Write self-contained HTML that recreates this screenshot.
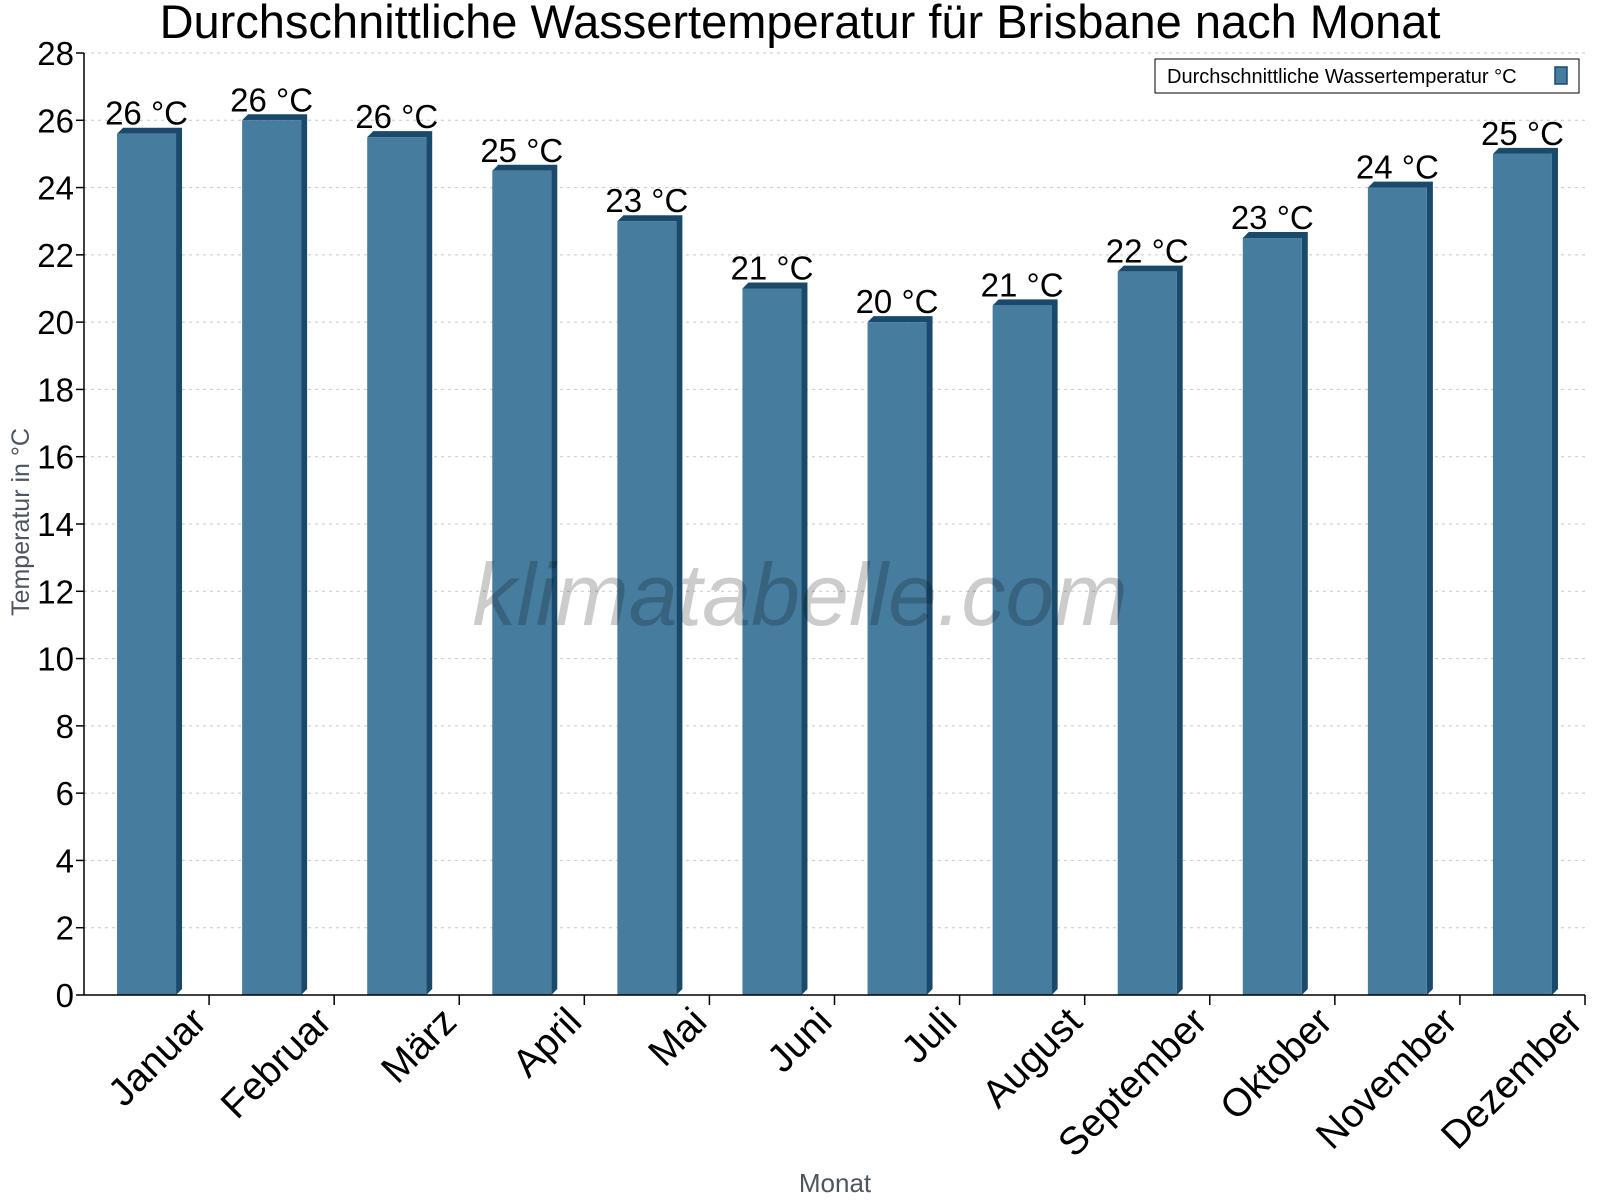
<!DOCTYPE html>
<html><head><meta charset="utf-8"><style>
body{margin:0;background:#fff}
svg{display:block;font-family:"Liberation Sans",sans-serif}
</style></head><body>
<svg id="chart" width="1600" height="1200" xmlns="http://www.w3.org/2000/svg">
<text x="800" y="38" font-size="47" text-anchor="middle" fill="#000">Durchschnittliche Wassertemperatur für Brisbane nach Monat</text>
<g id="grid"></g>
<g id="bars"></g>
<g id="axes"></g>
<text x="800" y="625" font-size="88" font-style="italic" text-anchor="middle" fill="#000" fill-opacity="0.2">klimatabelle.com</text>
<text transform="translate(29,522) rotate(-90)" font-size="25" text-anchor="middle" fill="#4d5560">Temperatur in °C</text>
<text x="835" y="1192" font-size="26" text-anchor="middle" fill="#4d5560">Monat</text>
<g>
<rect x="1155" y="59" width="424" height="34" fill="#fff" stroke="#000" stroke-width="1"/>
<text x="1167" y="83" font-size="20" fill="#000">Durchschnittliche Wassertemperatur °C</text>
<rect x="1555" y="67" width="12" height="17" fill="#467c9e" stroke="#1a4a6b" stroke-width="1.5"/>
</g>
</svg>
<script>
const months = ["Januar","Februar","März","April","Mai","Juni","Juli","August","September","Oktober","November","Dezember"];
const temps = [25.6,26.0,25.5,24.5,23.0,21.0,20.0,20.5,21.5,22.5,24.0,25.0];
const labels = ["26 °C","26 °C","26 °C","25 °C","23 °C","21 °C","20 °C","21 °C","22 °C","23 °C","24 °C","25 °C"];
const yTicks = [0,2,4,6,8,10,12,14,16,18,20,22,24,26,28];
const NS="http://www.w3.org/2000/svg";
const L=84,R=1585,T=53,B=995,yMax=28;
const y=v=>B-(B-T)*v/yMax;
const bw=(R-L)/months.length;
const xc=i=>L+bw*(i+0.5);
function mk(tag,attrs,parent,text){const e=document.createElementNS(NS,tag);for(const k in attrs)e.setAttribute(k,attrs[k]);if(text!==undefined)e.textContent=text;parent.appendChild(e);return e;}
const grid=document.getElementById('grid'),bars=document.getElementById('bars'),axes=document.getElementById('axes');
yTicks.forEach(t=>{
  const g=mk('line',{x1:L,x2:R,y1:y(t),y2:y(t),stroke:'#c8c8c8','stroke-dasharray':'3,4','stroke-width':1},grid);
  
  
  const tk=mk('line',{x1:L-8,x2:L,y1:y(t),y2:y(t),stroke:'#000','stroke-width':1.5},axes);
  
  
  const tl=mk('text',{x:L-10,y:y(t)+12,'font-size':33,'text-anchor':'end',fill:'#000'},axes,String(t));
  
  
});
const fw=59,d=6;
temps.forEach((v,i)=>{
  const x0=xc(i)-fw/2,top=y(v);
  const g=mk('g',{},bars);
  
  
  mk('polygon',{points:`${x0},${top} ${x0+d},${top-d} ${x0+fw+d},${top-d} ${x0+fw+d},${B-d} ${x0+fw},${B} ${x0+fw},${top}`,fill:'#1a4a6b'},g);
  mk('rect',{x:x0,y:top,width:fw,height:B-top,fill:'#467c9e'},g);
  const vl=mk('text',{x:xc(i),y:top-9,'font-size':33,'text-anchor':'middle',fill:'#000'},bars,labels[i]);
  
  
  const ml=mk('text',{transform:`translate(${xc(i)+62},${1024}) rotate(-45)`,'font-size':39,'text-anchor':'end',fill:'#000'},axes,months[i]);
  
  
  const xt=mk('line',{x1:L+bw*(i+1),x2:L+bw*(i+1),y1:B,y2:B+10,stroke:'#000','stroke-width':1.5},axes);
  
  
});
const ya=mk('line',{x1:L,x2:L,y1:T,y2:B,stroke:'#000','stroke-width':1.5},axes);


const xa=mk('line',{x1:L,x2:R,y1:B,y2:B,stroke:'#000','stroke-width':1.5},axes);


</script>
</body></html>
